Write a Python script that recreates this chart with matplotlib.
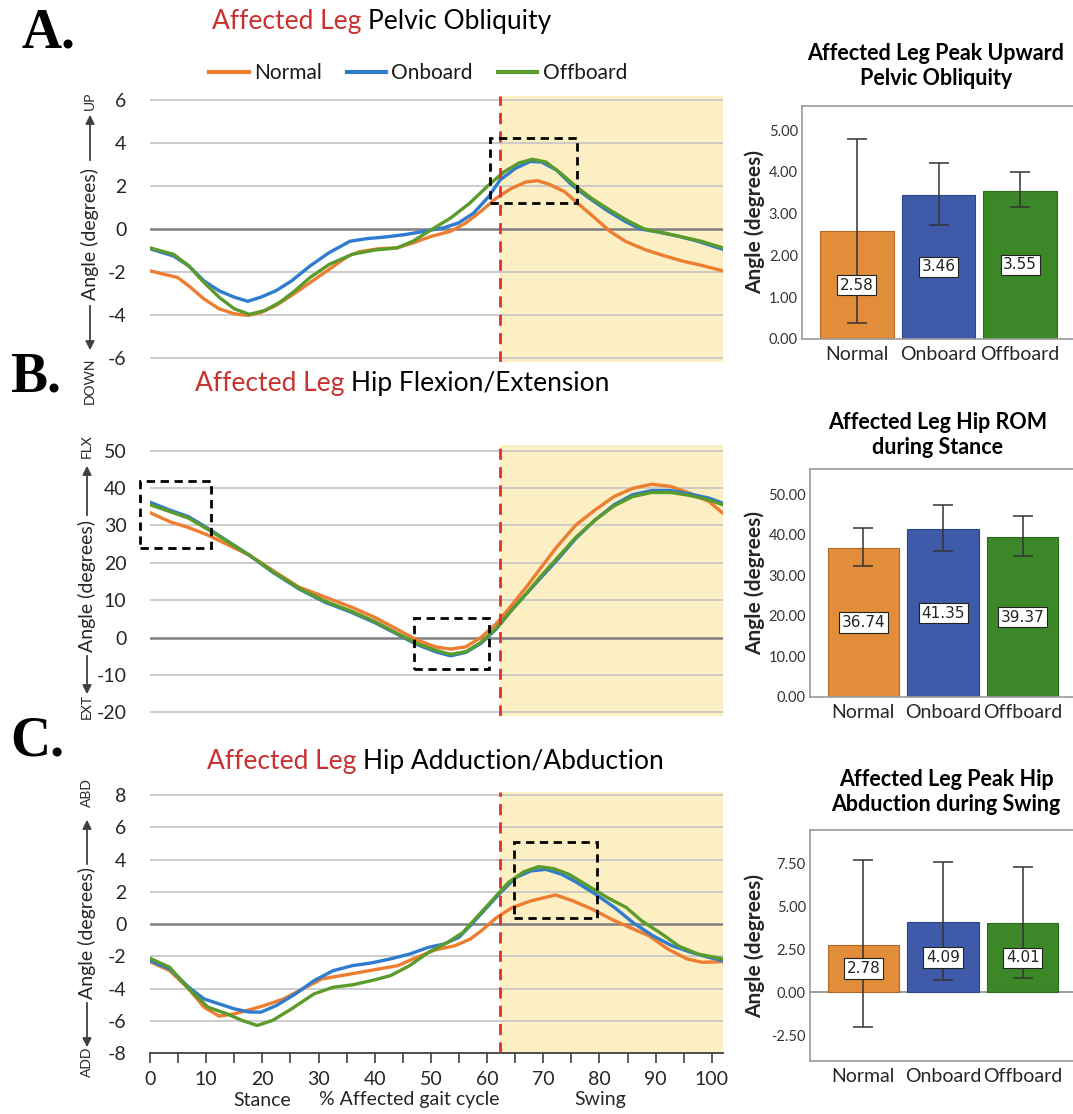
import matplotlib
matplotlib.use("Agg")
import matplotlib.pyplot as plt
from matplotlib.patches import FancyArrowPatch, Rectangle
from matplotlib.lines import Line2D
from matplotlib.ticker import MultipleLocator, FormatStrFormatter

W, H = 1073, 1114
plt.rcParams['font.family'] = ['Lato', 'DejaVu Sans']

series_names = ["Normal", "Onboard", "Offboard"]
line_colors = ["#ED7D31", "#2E7BCF", "#5B9B2B"]
bar_colors = ["#E28D3A", "#3E5AA8", "#3C8728"]
bar_edges = ["#B06A25", "#2C4485", "#2B6A1C"]
title_red = "#C8312F"

toe_off = 62.3  # % gait cycle where stance ends

# ---- Pelvic obliquity (degrees) vs % gait cycle ----
pelvic_normal_x = [0, 4.9, 6.9, 9.6, 12.3, 15, 17.4, 19.7, 22.4, 25.2, 28.5, 31.9, 35.3, 37.3, 40.7, 44, 46.8, 50.1, 53.5, 56.2, 58.9, 61.6, 64.3, 67, 69, 71, 73.8, 76.5, 79.2, 81.9, 84.6, 88, 91.3, 94.7, 98.1, 102]
pelvic_normal_y = [-1.95, -2.26, -2.65, -3.26, -3.72, -3.95, -4.03, -3.9, -3.57, -3.1, -2.5, -1.88, -1.26, -1.06, -0.92, -0.88, -0.65, -0.34, -0.11, 0.28, 0.82, 1.43, 1.89, 2.2, 2.25, 2.09, 1.74, 1.12, 0.51, -0.11, -0.57, -0.95, -1.23, -1.49, -1.69, -1.95]
pelvic_onboard_x = [0, 4.2, 6.9, 9.6, 12.3, 15, 17.4, 19.7, 22.4, 25.2, 28.5, 31.9, 35.6, 38.6, 42, 45.4, 48.8, 52.2, 54.9, 57.6, 60.3, 62.3, 65, 67.7, 69.7, 72.4, 75.1, 77.8, 81.2, 84.6, 87.3, 90.7, 94.1, 97.5, 102]
pelvic_onboard_y = [-0.92, -1.26, -1.72, -2.42, -2.88, -3.18, -3.37, -3.18, -2.88, -2.42, -1.72, -1.1, -0.57, -0.45, -0.37, -0.26, -0.11, 0.05, 0.28, 0.74, 1.51, 2.28, 2.82, 3.15, 3.12, 2.74, 2.05, 1.51, 0.89, 0.35, 0.0, -0.15, -0.34, -0.57, -0.95]
pelvic_offboard_x = [0, 4.2, 6.9, 9.6, 12.3, 15, 17.7, 20.4, 23.1, 25.8, 28.5, 31.9, 36, 40, 44, 46.8, 50.1, 53.5, 56.9, 60.3, 63, 65.7, 68.1, 70.5, 73.2, 75.9, 78.6, 82, 85.3, 88, 91.4, 94.7, 98.1, 102]
pelvic_offboard_y = [-0.88, -1.18, -1.72, -2.49, -3.18, -3.72, -3.98, -3.8, -3.42, -2.88, -2.26, -1.65, -1.18, -0.98, -0.88, -0.57, -0.03, 0.51, 1.2, 2.05, 2.66, 3.08, 3.25, 3.12, 2.58, 1.97, 1.43, 0.86, 0.35, 0.0, -0.18, -0.37, -0.57, -0.88]

# ---- Hip flexion/extension (degrees) ----
hipfe_normal_x = [0, 3.5, 6.9, 10.3, 13.6, 17.7, 21.8, 26.5, 31.2, 35.9, 40, 44, 47.4, 50.8, 53.5, 56.2, 58.9, 61.6, 64.3, 67, 69.7, 72.4, 75.8, 79.2, 82.6, 85.9, 89.3, 92.7, 96.1, 99.5, 102]
hipfe_normal_y = [33.4, 31, 29.4, 27.4, 25, 22, 18, 13.5, 10.8, 8.1, 5.4, 2.2, -0.6, -2.5, -3.1, -2.5, 0, 3.6, 8.5, 13.5, 18.9, 24.2, 30.1, 34.1, 37.7, 39.9, 41, 40.4, 38.6, 36.4, 33.2]
hipfe_onboard_x = [0, 3.5, 6.9, 10.3, 13.6, 17.7, 21.8, 26.5, 31.2, 35.9, 40, 44, 47.4, 50.8, 53.5, 56.2, 58.9, 61.6, 64.3, 67, 69.7, 72.4, 75.8, 79.2, 82.6, 85.9, 89.3, 92.7, 96.1, 99.5, 102]
hipfe_onboard_y = [36.2, 34.1, 32.3, 29.2, 26, 22, 17.5, 13, 9.4, 6.7, 4, 0.9, -1.8, -3.8, -4.9, -4, -1.6, 2.2, 7.2, 11.7, 16.2, 20.6, 26.5, 31.4, 35.5, 38.2, 39.3, 39.3, 38.4, 37.3, 35.9]
hipfe_offboard_x = [0, 3.5, 6.9, 10.3, 13.6, 17.7, 21.8, 26.5, 31.2, 35.9, 40, 44, 47.4, 50.8, 53.5, 56.2, 58.9, 61.6, 64.3, 67, 69.7, 72.4, 75.8, 79.2, 82.6, 85.9, 89.3, 92.7, 96.1, 99.5, 102]
hipfe_offboard_y = [35.5, 33.7, 31.9, 28.9, 25.9, 22, 17.7, 13.2, 9.7, 7, 4.3, 1.1, -1.5, -3.4, -4.5, -3.8, -1.3, 2.4, 7.2, 11.8, 16.6, 21.1, 26.8, 31.4, 35.2, 37.7, 38.8, 38.8, 38, 36.8, 35.5]

# ---- Hip adduction/abduction (degrees) ----
hipaa_normal_x = [0, 3.5, 6.9, 9.6, 12.3, 15, 17.7, 20.4, 23.8, 27.2, 30.6, 34, 37.4, 40.8, 44.1, 47.5, 50.9, 54.3, 57, 59, 61.7, 64.5, 67.8, 72.2, 75.3, 78.7, 82.1, 85.4, 88.8, 92.2, 95.6, 98.3, 102]
hipaa_normal_y = [-2.33, -2.89, -4.02, -5.15, -5.71, -5.57, -5.32, -5.05, -4.64, -4.02, -3.4, -3.2, -2.99, -2.78, -2.58, -2.06, -1.59, -1.34, -0.93, -0.41, 0.41, 1.03, 1.44, 1.81, 1.44, 0.93, 0.31, -0.21, -0.72, -1.55, -2.16, -2.37, -2.33]
hipaa_onboard_x = [0, 3.5, 6.9, 9.6, 12.3, 15, 17.7, 19.8, 22.5, 25.9, 29.2, 32.6, 36, 39.4, 42.8, 46.2, 49.6, 52.3, 55, 57, 59.7, 62.4, 65.1, 67.8, 70.5, 73.3, 76, 79.3, 82.7, 86.1, 89.5, 92.9, 96.3, 99, 102]
hipaa_onboard_y = [-2.27, -2.78, -3.92, -4.64, -4.95, -5.26, -5.46, -5.46, -5.05, -4.33, -3.51, -2.89, -2.58, -2.41, -2.16, -1.86, -1.44, -1.24, -0.82, -0.1, 0.93, 1.96, 2.89, 3.3, 3.4, 3.09, 2.58, 1.86, 1.03, 0.06, -0.72, -1.34, -1.75, -2.02, -2.27]
hipaa_offboard_x = [0, 3.5, 6.9, 10.3, 13.7, 16.4, 19.1, 21.8, 25.2, 29.2, 32.6, 36, 39.4, 42.8, 46.2, 49.6, 53, 55.7, 58.4, 61.1, 63.8, 66.5, 69.2, 71.9, 74.6, 78, 81.4, 84.8, 87.5, 90.9, 94.2, 97.6, 102]
hipaa_offboard_y = [-2.12, -2.68, -4.02, -5.15, -5.57, -5.98, -6.29, -5.98, -5.26, -4.33, -3.92, -3.77, -3.51, -3.2, -2.58, -1.75, -1.13, -0.52, 0.52, 1.55, 2.58, 3.24, 3.57, 3.44, 3.09, 2.37, 1.65, 1.03, 0.21, -0.56, -1.38, -1.86, -2.16]

# ---- Bar summaries: mean with 95% CI ----
peak_pelvic_mean = [2.58, 3.46, 3.55]
peak_pelvic_low = [0.38, 2.73, 3.15]
peak_pelvic_high = [4.79, 4.22, 3.99]

hip_rom_mean = [36.74, 41.35, 39.37]
hip_rom_low = [32.3, 35.9, 34.7]
hip_rom_high = [41.6, 47.4, 44.5]

peak_abd_mean = [2.78, 4.09, 4.01]
peak_abd_low = [-2.03, 0.71, 0.85]
peak_abd_high = [7.7, 7.6, 7.3]


def fx(px):
    return px / W


def fy(py):
    return 1 - py / H


def px_axes(left, top, right, bottom):
    return fig.add_axes([left / W, 1 - bottom / H, (right - left) / W, (bottom - top) / H])


fig = plt.figure(figsize=(W / 100, H / 100), dpi=100)
renderer = fig.canvas.get_renderer()


def two_tone_title(x_left, y_center, red_part, black_part, size):
    t1 = fig.text(fx(x_left), fy(y_center), red_part, color=title_red, fontsize=size,
                  ha='left', va='center')
    bb = t1.get_window_extent(renderer)
    fig.text(bb.x1 / W + 0.006, fy(y_center), black_part, color='black', fontsize=size,
             ha='left', va='center')


def axis_label(xc, top_word, top_c, up_arrow, mid_c, down_arrow, bot_word, bot_c):
    kw = dict(rotation=90, ha='center', va='center', color='#262626')
    fig.text(fx(xc), fy(top_c), top_word, fontsize=10, **kw)
    fig.text(fx(xc), fy(mid_c), "Angle (degrees)", fontsize=14, **kw)
    fig.text(fx(xc), fy(bot_c), bot_word, fontsize=10, **kw)
    for (a, b) in (up_arrow, down_arrow):
        fig.add_artist(FancyArrowPatch((fx(xc), fy(a)), (fx(xc), fy(b)),
                                       transform=fig.transFigure, arrowstyle='-|>',
                                       mutation_scale=13, lw=1.3, color='#404040'))


def gait_panel(ax, curves, ticks, ylim, boxes, bottom_axis=False):
    ax.axvspan(toe_off, 102, color='#FDEFC4', zorder=0, lw=0)
    for t in ticks:
        if t == 0:
            ax.axhline(t, color='#7F7F7F', lw=1.8, zorder=1)
        elif bottom_axis and t == ticks[0]:
            continue
        else:
            ax.axhline(t, color='#C4C4C4', lw=1.2, zorder=1)
    for (xs, ys), c in zip(curves, line_colors):
        ax.plot(xs, ys, color=c, lw=2.4, zorder=3, solid_capstyle='round')
    ax.axvline(toe_off, color='#E0302E', lw=2, dashes=(4, 2.6), zorder=4)
    for (x0, x1, y0, y1) in boxes:
        ax.add_patch(Rectangle((x0, y0), x1 - x0, y1 - y0, fill=False, ec='black', lw=2,
                               ls=(0, (3, 2)), zorder=5, clip_on=False))
    ax.set_xlim(0, 102)
    ax.set_ylim(*ylim)
    ax.set_yticks(ticks)
    ax.set_yticklabels([str(t) for t in ticks])
    ax.tick_params(axis='y', length=0, pad=17, labelsize=14, labelcolor='#262626')
    for s in ('top', 'right', 'left'):
        ax.spines[s].set_visible(False)
    if bottom_axis:
        ax.spines['bottom'].set_color('#404040')
        ax.spines['bottom'].set_linewidth(1.3)
        ax.spines['bottom'].set_position(('data', ticks[0]))
        ax.set_xticks(range(0, 101, 10))
        ax.xaxis.set_minor_locator(MultipleLocator(5))
        ax.tick_params(axis='x', which='both', direction='out', length=7, width=1.2,
                       color='#404040', labelsize=14, labelcolor='#262626', pad=6)
    else:
        ax.spines['bottom'].set_visible(False)
        ax.set_xticks([])
    ax.set_facecolor('none')


def bar_panel(ax, means, low, high, ylim, yticks, fmt, zero_line=False):
    xs = range(len(series_names))
    ax.bar(xs, means, width=0.9, color=bar_colors, edgecolor=bar_edges, lw=0.8, zorder=2)
    err = [[m - lo for m, lo in zip(means, low)], [hi - m for m, hi in zip(means, high)]]
    ax.errorbar(xs, means, yerr=err, fmt='none', ecolor='#333333', elinewidth=1.1,
                capsize=7, capthick=1.1, zorder=3)
    for x, m in zip(xs, means):
        ax.text(x, m / 2, f"{m:.2f}", ha='center', va='center', fontsize=11,
                family='DejaVu Sans', color='#222222', zorder=4,
                bbox=dict(boxstyle='square,pad=0.18', fc='white', ec='#222222', lw=0.8))
    if zero_line:
        ax.axhline(0, color='#8C8C8C', lw=1.2, zorder=1)
    ax.set_xlim(-0.67, 2.67)
    ax.set_ylim(*ylim)
    ax.set_yticks(yticks)
    ax.yaxis.set_major_formatter(FormatStrFormatter(fmt))
    ax.set_xticks(list(xs))
    ax.set_xticklabels(series_names)
    ax.tick_params(axis='y', length=0, pad=3, labelsize=10.5, labelcolor='#333333')
    ax.tick_params(axis='x', length=0, pad=5, labelsize=14, labelcolor='#262626')
    for s in ('left', 'top', 'bottom'):
        ax.spines[s].set_color('#9A9A9A')
        ax.spines[s].set_linewidth(1.2)
    ax.spines['right'].set_visible(False)
    ax.set_ylabel("Angle (degrees)", fontsize=15, fontweight='bold', color='#262626')


# ---------- Panel A ----------
axA = px_axes(150, 96, 723, 362)
gait_panel(axA, [(pelvic_normal_x, pelvic_normal_y), (pelvic_onboard_x, pelvic_onboard_y),
                 (pelvic_offboard_x, pelvic_offboard_y)],
           [-6, -4, -2, 0, 2, 4, 6], (-6.2, 6.2), [(60.5, 76.0, 1.2, 4.25)])
two_tone_title(212, 22, "Affected Leg", "Pelvic Obliquity", 19)
axis_label(90, "UP", 101, (163, 112), 234, (303, 353), "DOWN", 381)

handles = [Line2D([], [], color=c, lw=3) for c in line_colors]
fig.legend(handles, series_names, loc='center', bbox_to_anchor=(fx(418), fy(73)), ncol=3,
           frameon=False, fontsize=15, handlelength=1.9, handletextpad=0.25,
           columnspacing=1.2, labelcolor='#1a1a1a')

# ---------- Panel B ----------
axB = px_axes(150, 445, 723, 716)
gait_panel(axB, [(hipfe_normal_x, hipfe_normal_y), (hipfe_onboard_x, hipfe_onboard_y),
                 (hipfe_offboard_x, hipfe_offboard_y)],
           [-20, -10, 0, 10, 20, 30, 40, 50], (-21, 51.5),
           [(-1.8, 10.8, 24.0, 42.0), (47.0, 60.3, -8.5, 5.2)])
two_tone_title(195, 383, "Affected Leg", "Hip Flexion/Extension", 19)
axis_label(87, "FLX", 446, (518, 463), 586, (653, 697), "EXT", 706)

# ---------- Panel C ----------
axC = px_axes(150, 792, 723, 1053)
gait_panel(axC, [(hipaa_normal_x, hipaa_normal_y), (hipaa_onboard_x, hipaa_onboard_y),
                 (hipaa_offboard_x, hipaa_offboard_y)],
           [-8, -6, -4, -2, 0, 2, 4, 6, 8], (-8, 8.2), [(64.8, 79.5, 0.35, 5.1)],
           bottom_axis=True)
two_tone_title(207, 762, "Affected Leg", "Hip Adduction/Abduction", 19)
axis_label(87, "ABD", 793, (867, 817), 933, (1000, 1050), "ADD", 1062)
for label, xc in (("Stance", 262), ("% Affected gait cycle", 409), ("Swing", 600)):
    fig.text(fx(xc), fy(1100), label, ha='center', va='center', fontsize=14, color='#262626')

# ---------- Bar summaries ----------
bA = px_axes(802, 106, 1075, 339)
bar_panel(bA, peak_pelvic_mean, peak_pelvic_low, peak_pelvic_high, (0, 5.58),
          [0, 1, 2, 3, 4, 5], '%.2f')
bA.yaxis.set_label_coords(-0.136, 0.5)
fig.text(fx(936), fy(66), "Affected Leg Peak Upward\nPelvic Obliquity", ha='center',
         va='center', fontsize=15.5, fontweight='bold', linespacing=1.25)

bB = px_axes(810, 469, 1076, 697)
bar_panel(bB, hip_rom_mean, hip_rom_low, hip_rom_high, (0, 56.2),
          [0, 10, 20, 30, 40, 50], '%.2f')
bB.yaxis.set_label_coords(-0.169, 0.5)
fig.text(fx(938), fy(435), "Affected Leg Hip ROM\nduring Stance", ha='center',
         va='center', fontsize=15.5, fontweight='bold', linespacing=1.25)

bC = px_axes(810, 830, 1076, 1061)
bar_panel(bC, peak_abd_mean, peak_abd_low, peak_abd_high, (-3.98, 9.44),
          [-2.5, 0, 2.5, 5, 7.5], '%.2f', zero_line=True)
bC.yaxis.set_label_coords(-0.169, 0.5)
fig.text(fx(946), fy(792), "Affected Leg Peak Hip\nAbduction during Swing", ha='center',
         va='center', fontsize=15.5, fontweight='bold', linespacing=1.25)

# ---------- Panel letters ----------
for letter, xl, yc in (("A.", 22, 33), ("B.", 10, 378), ("C.", 10, 742)):
    fig.text(fx(xl), fy(yc), letter, family='Liberation Serif', fontweight='bold',
             fontsize=40, ha='left', va='center')

fig.savefig("out.png", dpi=100)
